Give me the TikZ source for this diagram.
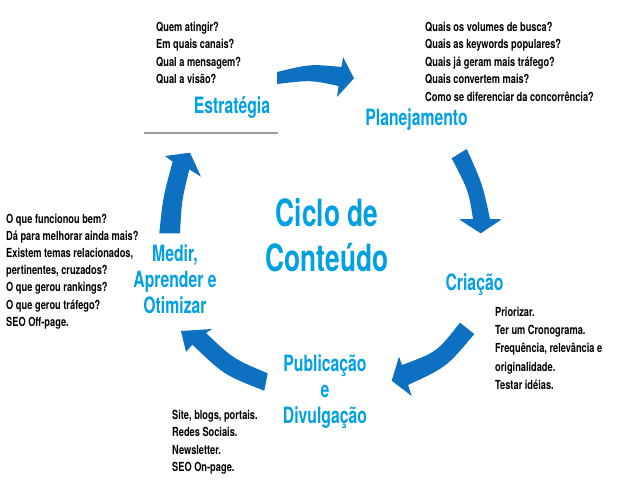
\documentclass[tikz,border=0pt]{standalone}
\usepackage{fontspec}
\setmainfont{TeX Gyre Heros}[FakeStretch=0.7]
\newfontfamily\notefont{TeX Gyre Heros}[FakeStretch=0.74]
\definecolor{arrowblue}{RGB}{14,112,192}
\definecolor{stageblue}{RGB}{0,160,227}
\definecolor{rulegray}{RGB}{155,155,155}
\tikzset{
  cyclearrow/.style={fill=arrowblue},
  stage/.style={text=stageblue, font=\bfseries\fontsize{22.5}{26}\selectfont, align=center, inner sep=0pt, anchor=base},
  notes/.style={font=\notefont\bfseries\fontsize{12.5}{17.5}\selectfont, align=left, inner sep=0pt, anchor=base west},
}
\begin{document}
\begin{tikzpicture}[x=1pt, y=-1pt]
\useasboundingbox (0,0) rectangle (640,491);
% centre
\node[stage, font=\bfseries\fontsize{37.5}{45}\selectfont] at (327,271.5) (ciclo) {Ciclo de\\Conteúdo};
% stages
\node[stage] at (232,113.3) (estrategia) {Estratégia};
\node[stage] at (416.5,125.3) (planejamento) {Planejamento};
\node[stage] at (474.5,290.3) (criacao) {Criação};
\node[stage] at (325,423.3) (publicacao) {Publicação\\e\\Divulgação};
\node[stage] at (175,313) (medir) {Medir,\\Aprender e\\Otimizar};
\draw[rulegray, line width=1.6pt] (144,132.7) -- (278,132.7);
% notes
\node[notes] at (156,83.7) (qestrategia) {Quem atingir?\\Em quais canais?\\Qual a mensagem?\\Qual a visão?};
\node[notes] at (425,101.2) (qplanejamento) {Quais os volumes de busca?\\Quais as keywords populares?\\Quais já geram mais tráfego?\\Quais convertem mais?\\Como se diferenciar da concorrência?};
\node[notes, font=\notefont\bfseries\fontsize{12.5}{18.2}\selectfont] at (495,389.3) (qcriacao) {Priorizar.\\Ter um Cronograma.\\Frequência, relevância e\\originalidade.\\Testar idéias.};
\node[notes, font=\notefont\bfseries\fontsize{12.5}{17.3}\selectfont] at (172,471.4) (qpublicacao) {Site, blogs, portais.\\Redes Sociais.\\Newsletter.\\SEO On-page.};
\node[notes, font=\notefont\bfseries\fontsize{12.5}{17.1}\selectfont] at (6,326.1) (qmedir) {O que funcionou bem?\\Dá para melhorar ainda mais?\\Existem temas relacionados,\\pertinentes, cruzados?\\O que gerou rankings?\\O que gerou tráfego?\\SEO Off-page.};
% arrows
\fill[cyclearrow] (277,72) .. controls (310,64) .. (341.5,67) -- (343,57) -- (354,78.3)
  -- (337,97) -- (338.6,86) .. controls (311,80) .. (277,84) -- cycle;
\fill[cyclearrow] (451.7,158.3) .. controls (468.5,190.5) .. (473,219) -- (459,219.3) -- (480.7,233.3)
  -- (501.7,219.3) -- (490,219) .. controls (482.5,184) .. (466.7,149) -- cycle;
\fill[cyclearrow] (460,322.7) .. controls (437,352) .. (402,365) -- (399,356.7) -- (391.7,380.7)
  -- (411.7,396) -- (408,385) .. controls (446.7,367) .. (474.3,334) -- cycle;
\fill[cyclearrow] (267.7,373.3) .. controls (233.2,358.8) .. (206,333) -- (212,329) -- (181,331)
  -- (186,352) -- (192.4,344.6) .. controls (224,375) .. (264.3,390.7) -- cycle;
\fill[cyclearrow] (159.3,233.3) .. controls (163,197) .. (172.7,161.7) -- (165,156) -- (190,152.7)
  -- (201,176.7) -- (189.3,169.3) .. controls (181.7,200.8) .. (180,233.3) -- cycle;
\end{tikzpicture}
\end{document}
